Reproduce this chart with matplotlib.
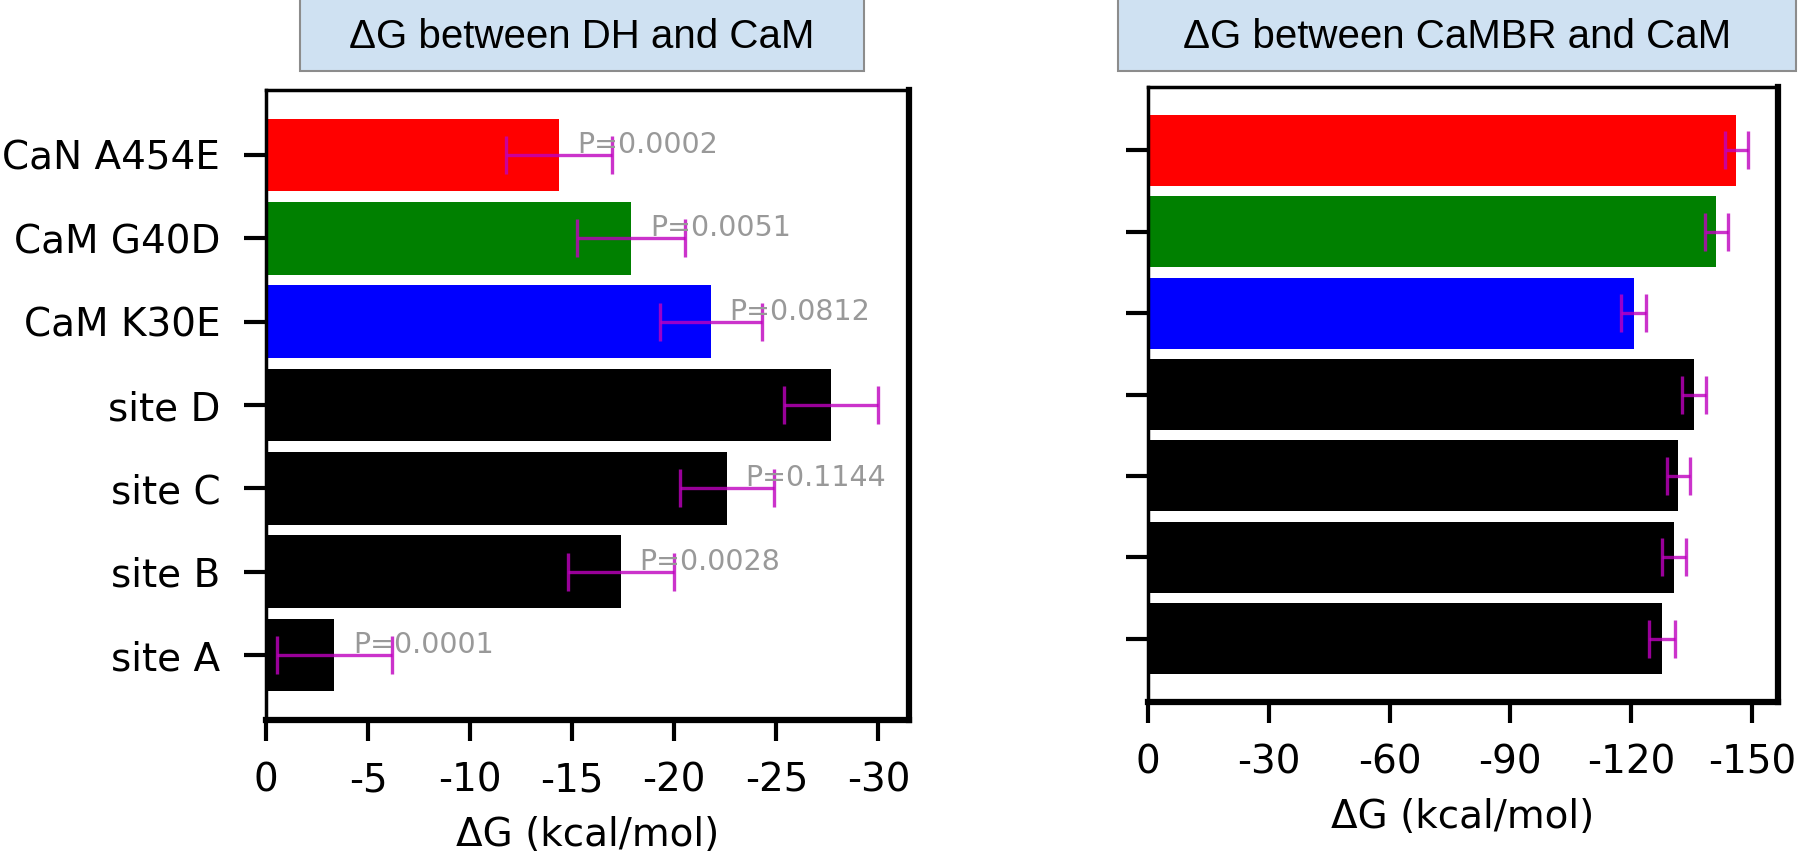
import numpy as np
import matplotlib
matplotlib.use("Agg")
import matplotlib.pyplot as plt
import matplotlib.ticker as ticker
from matplotlib.patches import Rectangle

DPI = 100
WIDTH_PX = 1800
HEIGHT_PX = 861

plt.rcParams['axes.unicode_minus'] = False

# ── data (bottom to top) ──
labels = ['site A', 'site B', 'site C', 'site D', 'CaM K30E', 'CaM G40D', 'CaN A454E']
bar_colors = ['black', 'black', 'black', 'black', 'blue', 'green', 'red']

dg_dh = [-3.35, -17.4, -22.6, -27.7, -21.8, -17.9, -14.35]
err_dh = [2.8, 2.6, 2.3, 2.3, 2.5, 2.65, 2.6]
p_values = ['P=0.0001', 'P=0.0028', 'P=0.1144', None, 'P=0.0812', 'P=0.0051', 'P=0.0002']

dg_cambr = [-127.7, -130.6, -131.7, -135.6, -120.6, -141.1, -146.1]
err_cambr = [3.2, 2.9, 2.8, 2.9, 3.1, 2.9, 2.9]

titles = ['ΔG between DH and CaM', 'ΔG between CaMBR and CaM']
xlabel = 'ΔG (kcal/mol)'


def px_rect(left, top, right, bottom):
    """像素坐标 -> figure 坐标"""
    return [left / WIDTH_PX, 1 - bottom / HEIGHT_PX,
            (right - left) / WIDTH_PX, (bottom - top) / HEIGHT_PX]


def _style(ax, step):
    for side in ('top', 'left'):
        ax.spines[side].set_linewidth(2.5)
    for side in ('right', 'bottom'):
        ax.spines[side].set_linewidth(4.5)
    ax.invert_xaxis()
    ax.xaxis.set_major_locator(ticker.MultipleLocator(step))
    ax.tick_params(axis='x', length=15, width=3, labelsize=28, pad=15)
    ax.tick_params(axis='y', length=16, width=3, labelsize=28, pad=17)
    ax.set_xlabel(xlabel, fontsize=28, labelpad=12)


fig = plt.figure(figsize=(WIDTH_PX / DPI, HEIGHT_PX / DPI), dpi=DPI)

# ── left panel ──
ax1 = fig.add_axes(px_rect(266, 90, 909, 720))
y = np.arange(len(labels))
ax1.barh(y, dg_dh, height=0.87, color=bar_colors)
ax1.errorbar(dg_dh, y, xerr=err_dh, fmt='none', ecolor='m', elinewidth=2.4,
             capsize=14, capthick=2.4, alpha=0.8)
for yi, v, p in zip(y, dg_dh, p_values):
    if p is None:
        continue
    ax1.text(v - 0.9, yi + 0.12, p, ha='left', va='center',
             fontsize=20.5, color='#999999')
ax1.set_yticks(y)
ax1.set_yticklabels(labels)
_style(ax1, 5)

# ── right panel ──
ax2 = fig.add_axes(px_rect(1148, 87, 1778, 702))
ax2.barh(y, dg_cambr, height=0.87, color=bar_colors)
ax2.errorbar(dg_cambr, y, xerr=err_cambr, fmt='none', ecolor='m', elinewidth=2.4,
             capsize=14, capthick=2.4, alpha=0.8)
ax2.set_yticks(y)
ax2.set_yticklabels([])
_style(ax2, 30)

# ── title boxes ──
for (l, r), t in zip([(300, 864), (1118, 1796)], titles):
    fig.patches.append(Rectangle((l / WIDTH_PX, 1 - 71 / HEIGHT_PX),
                                 (r - l) / WIDTH_PX, 0.2,
                                 transform=fig.transFigure, facecolor='#cfe1f2',
                                 edgecolor='#8c8c8c', linewidth=1.5, zorder=0))
    fig.text((l + r) / 2 / WIDTH_PX, 1 - 37 / HEIGHT_PX, t, ha='center', va='center',
             fontsize=29, family='Liberation Sans')

fig.savefig('out.png', dpi=DPI)
